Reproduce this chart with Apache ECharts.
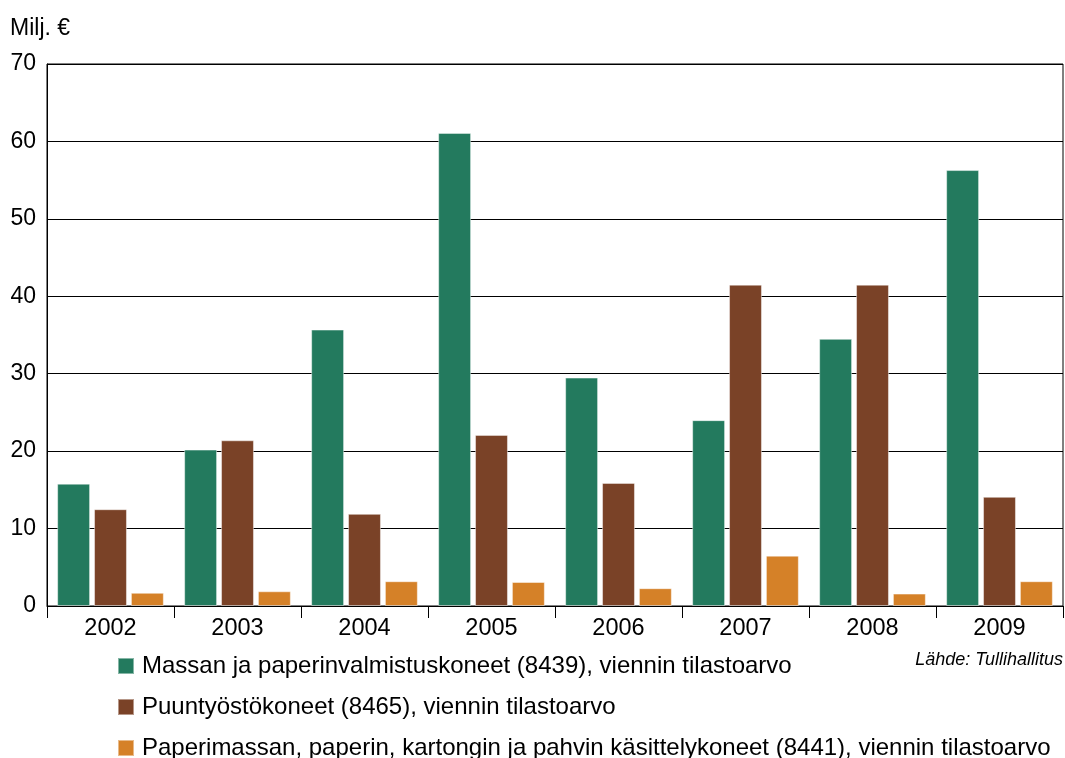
<!DOCTYPE html>
<html>
<head>
<meta charset="utf-8">
<script src="https://cdn.jsdelivr.net/npm/echarts@6/dist/echarts.min.js"></script>
<style>
  html, body { margin: 0; padding: 0; background: #fff; }
  #chart { width: 1065px; height: 758px; }
</style>
</head>
<body>
<div id="chart"></div>
<script>
// vuodet
var years = ['2002', '2003', '2004', '2005', '2006', '2007', '2008', '2009'];
var seriesNames = [
  'Massan ja paperinvalmistuskoneet (8439), viennin tilastoarvo',
  'Puuntyöstökoneet (8465), viennin tilastoarvo',
  'Paperimassan, paperin, kartongin ja pahvin käsittelykoneet (8441), viennin tilastoarvo'
];
var massa = [15.8, 20.2, 35.7, 61.1, 29.5, 24.0, 34.5, 56.3];
var puu = [12.5, 21.4, 11.9, 22.1, 15.9, 41.5, 41.5, 14.1];
var kasittely = [1.7, 1.9, 3.2, 3.1, 2.3, 6.5, 1.6, 3.2];
var colors = ['#237a5e', '#7a4227', '#d58128'];

var font = 'Liberation Sans, Arial, sans-serif';

function bar(name, data, color) {
  return {
    name: name,
    type: 'bar',
    data: data,
    barGap: '12%',
    barCategoryGap: '16%',
    itemStyle: { color: color, borderColor: 'rgba(255,255,255,0.45)', borderWidth: 1 }
  };
}

// yksi selite per rivi
function legendRow(i, top) {
  return {
    orient: 'vertical',
    left: 112,
    top: top,
    itemWidth: 16,
    itemHeight: 16,
    icon: 'rect',
    textStyle: { fontFamily: font, fontSize: 24, color: '#000', padding: [0, 0, 0, 3] },
    data: [seriesNames[i]]
  };
}

var chart = echarts.init(document.getElementById('chart'));
chart.setOption({
  animation: false,
  color: colors,
  grid: { left: 47, right: 2, top: 64, bottom: 152, show: true, borderColor: '#000', borderWidth: 1 },
  title: [
    { text: 'Milj. €', left: 5, top: 12, textStyle: { fontFamily: font, fontSize: 23, fontWeight: 'normal', color: '#000' } },
    { text: 'Lähde: Tullihallitus', right: -3, top: 646, textStyle: { fontFamily: font, fontSize: 18, fontWeight: 'normal', fontStyle: 'italic', color: '#000' } }
  ],
  legend: [legendRow(0, 649), legendRow(1, 690), legendRow(2, 731)],
  xAxis: {
    type: 'category',
    data: years,
    axisLine: { lineStyle: { color: '#000', width: 1 } },
    axisTick: { show: true, length: 12, lineStyle: { color: '#000' } },
    axisLabel: { fontFamily: font, fontSize: 23.5, color: '#000', margin: 11 }
  },
  yAxis: {
    type: 'value',
    min: 0,
    max: 70,
    interval: 10,
    axisLine: { show: true, lineStyle: { color: '#000' } },
    axisTick: { show: false },
    axisLabel: { fontFamily: font, fontSize: 23, color: '#000', margin: 11 },
    splitLine: { lineStyle: { color: '#000', width: 1 } }
  },
  series: [
    bar(seriesNames[0], massa, colors[0]),
    bar(seriesNames[1], puu, colors[1]),
    bar(seriesNames[2], kasittely, colors[2])
  ]
});
</script>
</body>
</html>
